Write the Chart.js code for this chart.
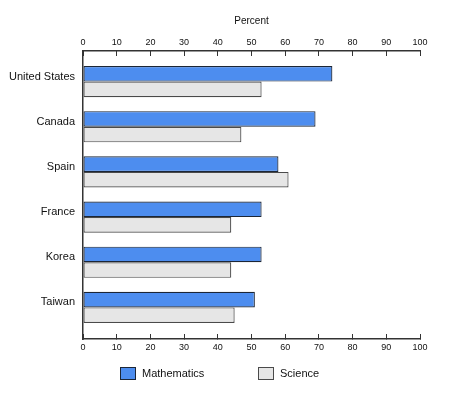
<!DOCTYPE html>
<html lang="en">
<head>
    <meta charset="UTF-8">
    <title>Mathematics and Science</title>
    <style>
        body {
            margin: 0;
            padding: 0;
            background-color: #fff;
        }

        .chart-box {
            position: relative;
            width: 474px;
            height: 394px;
        }
    </style>
</head>
<body>
    <div class="chart-box">
        <canvas id="chart"></canvas>
    </div>

    <script src="https://cdn.jsdelivr.net/npm/chart.js"></script>
    <script>
        const countries = ['United States', 'Canada', 'Spain', 'France', 'Korea', 'Taiwan'];
        const mathematics = [74, 69, 58, 53, 53, 51];
        const science = [53, 47, 61, 44, 44, 45];
        const percentTicks = [0, 10, 20, 30, 40, 50, 60, 70, 80, 90, 100];

        const fontFamily = '"Liberation Sans", Arial, sans-serif';
        const axisColor = '#333';

        // leave a little gap above the first and below the last country
        const categoryGap = {
            id: 'categoryGap',
            afterLayout(chart) {
                const y = chart.scales.y;
                y._startPixel += 8;
                y._endPixel -= 9;
                y._length = y._endPixel - y._startPixel;
            }
        };

        // legend drawn under the bottom axis
        const bottomLegend = {
            id: 'bottomLegend',
            afterDraw(chart) {
                const ctx = chart.ctx;
                const positions = [120, 258];
                ctx.save();
                ctx.font = '11px ' + fontFamily;
                ctx.textBaseline = 'middle';
                chart.data.datasets.forEach((ds, i) => {
                    const x = positions[i];
                    ctx.fillStyle = ds.backgroundColor;
                    ctx.fillRect(x, 367, 16, 13);
                    ctx.strokeStyle = ds.borderColor;
                    ctx.lineWidth = 1;
                    ctx.strokeRect(x + 0.5, 367.5, 15, 12);
                    ctx.fillStyle = '#111';
                    ctx.fillText(ds.label, x + 22, 374);
                });
                ctx.restore();
            }
        };

        const xAxis = (position, height) => ({
            type: 'linear',
            position: position,
            min: 0,
            max: 100,
            afterBuildTicks: (scale) => {
                scale.ticks = percentTicks.map((v) => ({ value: v }));
            },
            afterFit: (scale) => {
                scale.height = height;
            },
            grid: {
                drawOnChartArea: false,
                drawTicks: true,
                tickLength: -5,
                color: axisColor,
                tickWidth: 1
            },
            border: { color: axisColor, width: 1.5 },
            ticks: {
                padding: 8,
                color: '#111',
                font: { family: fontFamily, size: 9 }
            },
            title: {
                display: position === 'top',
                text: 'Percent',
                color: '#111',
                font: { family: fontFamily, size: 10 },
                padding: { top: 15, bottom: 0 }
            }
        });

        new Chart(document.getElementById('chart'), {
            type: 'bar',
            data: {
                labels: countries,
                datasets: [
                    {
                        label: 'Mathematics',
                        data: mathematics,
                        xAxisID: 'x',
                        backgroundColor: '#4d8def',
                        borderColor: '#1c2636',
                        borderWidth: 1.2,
                        borderSkipped: false
                    },
                    {
                        label: 'Science',
                        data: science,
                        xAxisID: 'x',
                        backgroundColor: '#e6e6e6',
                        borderColor: '#4a4a4a',
                        borderWidth: 1.2,
                        borderSkipped: false
                    }
                ]
            },
            options: {
                indexAxis: 'y',
                responsive: true,
                maintainAspectRatio: false,
                animation: false,
                categoryPercentage: 0.69,
                barPercentage: 1,
                layout: {
                    padding: { left: 0, right: 54, top: 0, bottom: 0 }
                },
                plugins: {
                    legend: { display: false },
                    tooltip: { enabled: false }
                },
                scales: {
                    x: xAxis('top', 51),
                    x2: xAxis('bottom', 55),
                    y: {
                        type: 'category',
                        offset: true,
                        afterFit: (scale) => {
                            scale.width = 83;
                        },
                        grid: { display: false, drawTicks: false },
                        border: { color: axisColor, width: 1.5 },
                        ticks: {
                            padding: 8,
                            labelOffset: -5,
                            color: '#111',
                            font: { family: fontFamily, size: 11 }
                        }
                    }
                }
            },
            plugins: [categoryGap, bottomLegend]
        });
    </script>
</body>
</html>
